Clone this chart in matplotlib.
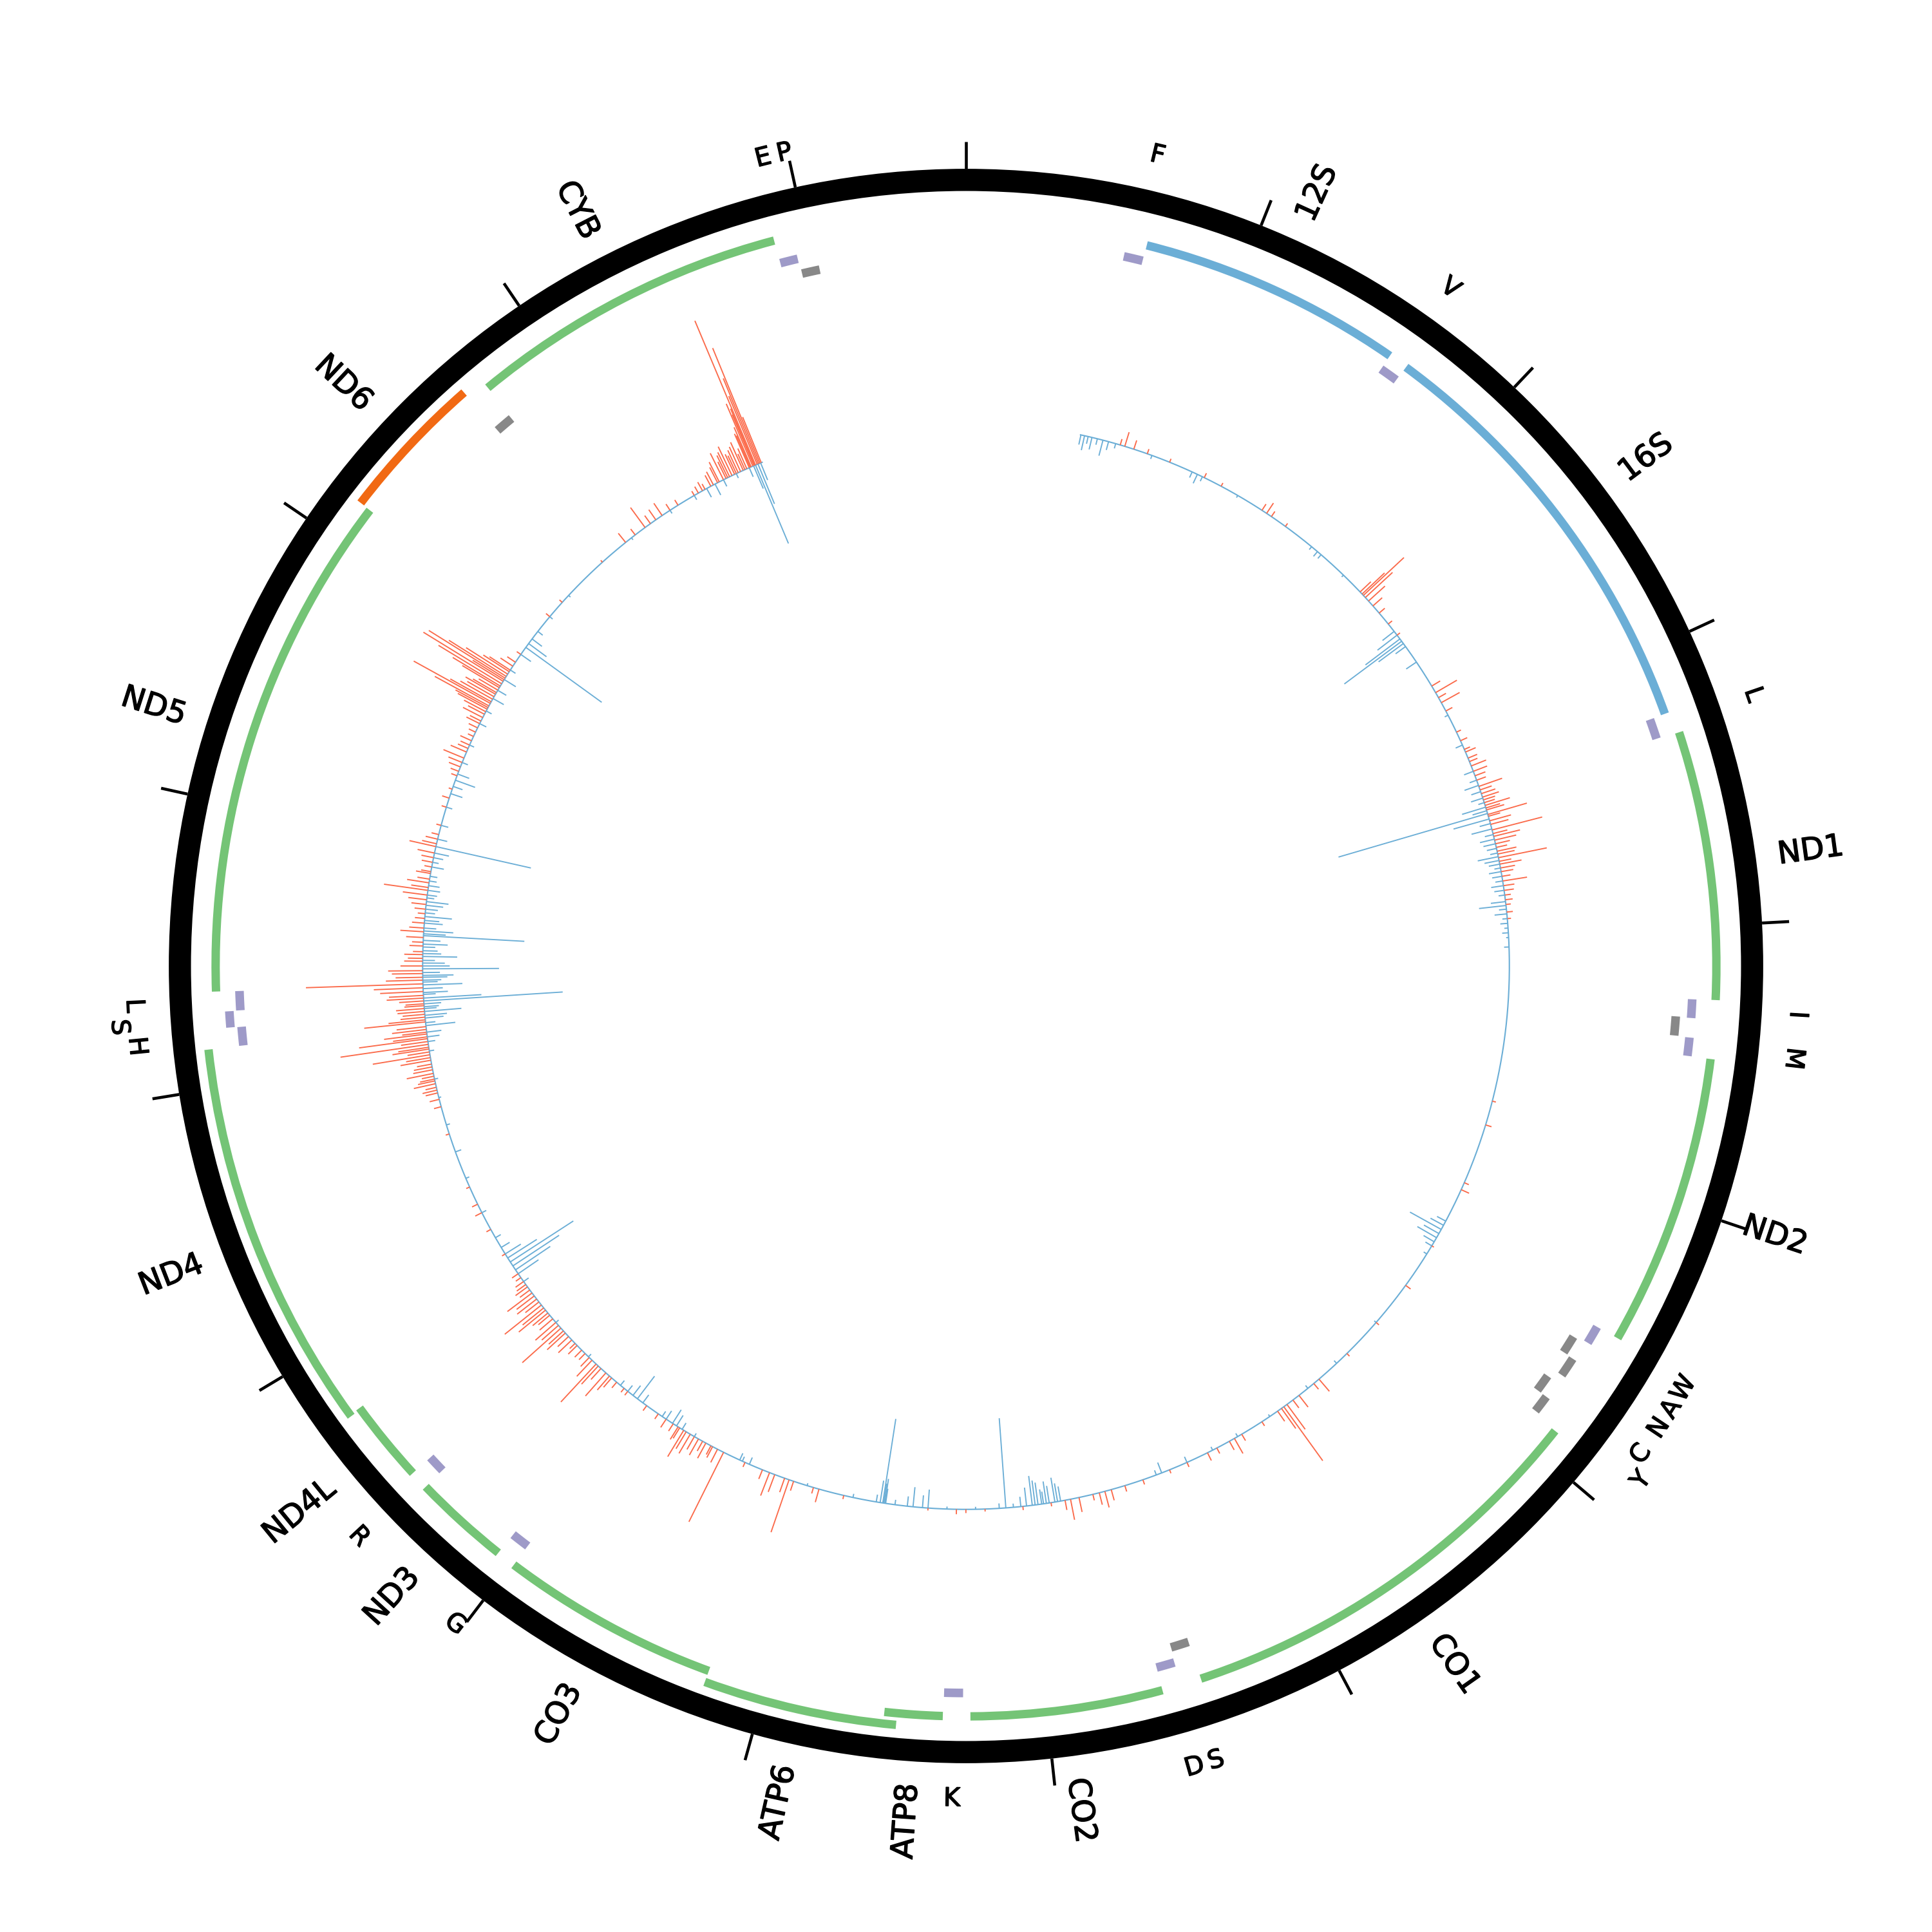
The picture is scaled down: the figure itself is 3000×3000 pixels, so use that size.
import numpy as np
import matplotlib
matplotlib.use("Agg")
import matplotlib.pyplot as plt
import matplotlib.patheffects as pe

GENOME_LEN = 16569

# --- mitochondrial genome annotation (rCRS) ---
gene_names = ["F", "12S", "V", "16S", "L", "ND1", "I", "Q", "M", "ND2", "W", "A", "N", "C", "Y",
              "CO1", "S", "D", "CO2", "K", "ATP8", "ATP6", "CO3", "G", "ND3", "R", "ND4L", "ND4",
              "H", "S", "L", "ND5", "ND6", "E", "CYB", "T", "P"]
gene_starts = [577, 648, 1602, 1671, 3230, 3307, 4263, 4329, 4402, 4470, 5512, 5587, 5657, 5761, 5826,
               5904, 7446, 7518, 7586, 8295, 8366, 8527, 9207, 9991, 10059, 10405, 10470, 10760,
               12138, 12207, 12266, 12337, 14149, 14674, 14747, 15888, 15956]
gene_ends = [647, 1601, 1670, 3229, 3304, 4262, 4331, 4400, 4469, 5511, 5579, 5655, 5729, 5826, 5891,
             7445, 7514, 7585, 8269, 8364, 8572, 9207, 9990, 10058, 10404, 10469, 10766, 12137,
             12206, 12265, 12336, 14148, 14673, 14742, 15887, 15953, 16023]
gene_strand = ["+", "+", "+", "+", "+", "+", "+", "-", "+", "+", "+", "-", "-", "-", "-",
               "+", "-", "+", "+", "+", "+", "+", "+", "+", "+", "+", "+", "+",
               "+", "+", "+", "+", "-", "-", "+", "+", "-"]
gene_kind = ["trna", "rrna", "trna", "rrna", "trna", "cds", "trna", "trna", "trna", "cds", "trna", "trna",
             "trna", "trna", "trna", "cds", "trna", "trna", "cds", "trna", "cds", "cds", "cds", "trna",
             "cds", "trna", "cds", "cds", "trna", "trna", "trna", "cds", "cds", "trna", "cds", "trna", "trna"]
# text shown next to each feature ("" = no label)
gene_labels = ["F", "12S", "V", "16S", "L", "ND1", "I", "", "M", "ND2", "W", "A", "N", "C", "Y",
               "CO1", "S", "D", "CO2", "K", "ATP8", "ATP6", "CO3", "G", "ND3", "R", "ND4L", "ND4",
               "H", "S", "L", "ND5", "ND6", "", "CYB", "E", "P"]

tick_positions = list(range(0, 16001, 1000))

# --- inner track: per-position signal ---
fwd_pos = [759, 782, 828, 897, 1013, 1197, 1289, 1519, 1546, 1574, 1657,
           2140, 2154, 2163, 2177, 2200, 2232, 2278, 2347, 2416,
           2715, 2752, 2780, 2808, 2854, 2969, 3061, 3107, 3148, 3199, 3254, 3291, 3323, 3351,
           3374, 3397, 3429, 3475, 3507, 3544, 3581, 3613, 3645, 3682, 3728, 3774, 3820, 3912,
           4805, 4925, 5224, 5261, 5569, 5799, 6029, 6236, 6420, 6453, 6545, 6582, 6618, 6637,
           6651, 6674, 6766, 6881, 6922, 6950, 7019, 7070, 7180,
           7272, 7410, 7502, 7571, 7603, 7631, 7663, 7732, 7774, 7801, 7870, 8008, 8192, 8285,
           8331, 8469, 8883, 9007, 9035, 9136, 9159, 9182, 9233, 9260, 9297, 9389, 9504, 9537,
           9573, 9642, 9688, 9725, 9757, 9826,
           9941, 10056, 10126, 10195, 10227, 10259, 10286, 10356, 10425, 10471, 10503, 10540,
           10586, 10618, 10650, 10687, 10724, 10761, 10793, 10839, 10954, 11092, 11184, 11230,
           11322, 11598, 11736, 11805, 11851, 11874, 11902, 11934, 11967, 11994, 12022, 12045,
           12073, 12096, 12118, 12155, 12178, 12220, 12243, 12271, 12340,
           12450, 12496, 12524, 12593, 12635, 12681, 12749, 12795, 12832, 12887, 12956, 13011,
           13048, 13117, 13255, 13370, 13416, 13462, 13494, 13531, 13600, 13646, 13679, 13725,
           13743, 13757, 13780, 13817, 13845, 13867, 13881, 13899, 13922, 13945, 13991, 14037,
           14268, 14360, 14636, 14784, 14843, 14903, 14935, 14967, 15004, 15050, 15096, 15188,
           15234, 15280, 15317, 15349, 15372, 15395, 15418, 15441, 15464, 15487, 15497, 15506,
           15512, 15520, 15529, 15536, 15543, 15550,
           # denser low-level stretches
           3015, 3075, 3125, 3176, 3222, 3272, 3309, 3337, 3364, 3406, 3447, 3493, 3526, 3562,
           3595, 3631, 3664, 3705, 3751, 3797, 3843, 3880,
           9564, 9601, 9619, 9665, 9711, 9748, 9785, 9872, 10079, 10158, 10172, 10245, 10305,
           10333, 10388, 10402, 10448, 10485, 10521, 10563, 10600, 10632, 10669, 10706, 10742,
           10775, 10816,
           11773, 11819, 11833, 11865, 11888, 11920, 11948, 11980, 12008, 12031, 12059, 12082,
           12105, 12132, 12165, 12192, 12206, 12234, 12257, 12284, 12303, 12321, 12358, 12372,
           12390, 12404, 12427, 12464, 12482, 12542, 12565, 12611, 12658, 12703, 12726, 12772,
           12809, 12850, 12878, 12910, 12933, 12979, 13025, 13071, 13209, 13301, 13393, 13439,
           13513, 13554, 13577, 13623, 13660, 13697, 13711, 13734, 13766, 13794, 13808, 13831,
           13854, 13890, 13909, 13936, 13968,
           15211, 15248, 15294, 15326, 15363, 15382, 15409, 15428, 15455, 15474, 15492, 15515]
fwd_val = [5, 12, 7.5, 4, 3, 4, 3, 6, 10, 5, 3,
           12, 25, 45, 30, 18, 10, 6, 4, 3,
           8, 20, 7, 17, 6, 4, 5, 8, 13, 9, 20, 12, 10, 21,
           15, 33, 18, 42, 22, 12, 16, 40, 18, 10, 20, 8, 6, 3,
           3, 5, 4, 7, 2, 5, 3, 3, 13, 6, 12, 8, 25, 54,
           20, 10, 4, 6, 14, 8, 5, 7, 4,
           3, 4, 5, 9, 13.5, 10, 5, 12, 17, 8, 3, 3, 2, 3,
           4, 2, 3, 11, 5, 8, 45, 12, 15, 20, 8, 4, 63, 12,
           8, 15, 18, 25, 12, 8,
           5, 4, 6, 25, 12, 42, 18, 8, 15, 20, 42, 22,
           12, 28, 38, 20, 25, 12, 8, 6, 3, 4, 6, 5,
           3, 3, 6, 10, 18, 12, 22, 15, 25, 47, 30, 72,
           56, 35, 28, 50, 20, 23, 15, 30, 95,
           15, 8, 11, 19, 10, 6, 15, 36, 18, 8, 10, 22,
           10, 4, 6, 5, 10, 18, 14, 8, 6, 12, 18, 27,
           50, 71, 30, 22, 35, 60, 76, 73, 40, 20, 8, 4,
           4, 3, 2, 9.5, 6, 20, 8, 10, 12, 6, 5, 4,
           8, 10, 14, 24, 20, 26, 16, 22, 14, 30, 35, 55,
           45, 127, 60, 75, 101, 40,
           6, 9, 7, 12, 8, 10, 14, 9, 12, 10, 15, 12, 18, 9,
           14, 10, 12, 7, 9, 5, 4, 5,
           10, 14, 9, 12, 16, 10, 7, 5, 4, 10, 15, 20, 10,
           7, 10, 6, 12, 16, 18, 14, 16, 22, 14, 18, 10,
           9, 5,
           8, 12, 9, 14, 10, 16, 12, 20, 18, 25, 22, 28,
           20, 24, 30, 18, 22, 16, 20, 28, 35, 40, 30, 22,
           25, 28, 18, 12, 15, 9, 14, 12, 8, 9, 12, 20,
           14, 10, 12, 6, 9, 14, 12, 6, 4, 3, 7, 12,
           9, 10, 5, 8, 10, 15, 20, 30, 38, 25, 28, 18,
           45, 30, 55, 25, 12,
           6, 5, 12, 18, 15, 22, 18, 20, 25, 18, 28, 50]

rev_pos = [562, 580, 598, 617, 644, 672, 700, 736, 921, 1132, 1160, 1187, 1381, 1818, 1855, 1878,
           2025, 2393, 2416, 2439, 2453, 2467, 2485, 2577, 2877, 3038, 3176, 3249, 3314, 3360,
           3392, 3420, 3470, 3521, 3567, 3608, 3645, 3682, 3728, 3774, 3848, 3889, 3935, 3981, 4050,
           5431, 5454, 5477, 5500, 5523, 5546, 5569, 5615, 6029, 6305, 6490, 6720, 6904, 7042,
           7180, 7313, 7341,
           7823, 7851, 7879, 7907, 7934, 7962, 7990, 8018, 8054, 8091, 8123, 8238, 8377, 8469,
           8496, 8542, 8570, 8630, 8680, 8690, 8703, 8722, 8837, 9067, 9366, 9403, 9417, 9665,
           9734, 9766, 9789, 9826, 9849,
           9964, 9997, 10024, 10056, 10102, 10310, 10540, 10793, 10839, 10862, 10885, 10908,
           10931, 10954, 10991, 11046, 11184, 11368, 11506, 11644, 11782, 11874, 12013, 12082,
           12137, 12174, 12206, 12229, 12257, 12271, 12298, 12335, 12358, 12381, 12413, 12441,
           12473, 12501, 12533, 12574, 12597, 12635, 12667, 12703, 12740, 12772,
           12841, 12910, 12979, 13011, 13048, 13117, 13209, 13278, 13315, 13347, 13379, 13439,
           13531, 13646, 13715, 13784, 13830, 13891, 13946, 14037, 14079, 14102, 14130, 14176,
           14268, 14406, 14820, 15050, 15188, 15257, 15303, 15349, 15418, 15487, 15510, 15520,
           15533, 15547,
           # denser low-level stretches
           3222, 3281, 3337, 3378, 3443, 3498, 3544, 3590, 3627, 3664, 3705, 3751, 3797, 3829,
           3866, 3912, 3958, 4004,
           7838, 7893, 7916, 7948, 8676, 8685,
           12059, 12105, 12151, 12187, 12220, 12243, 12289, 12317, 12349, 12372, 12395, 12427,
           12454, 12487, 12519, 12551, 12583, 12611, 12648, 12685, 12722, 12758, 12795, 12818,
           12864, 12933, 12956]
rev_val = [-8, -12, -6, -10, -5, -13, -7, -4, -3, -5, -8, -4, -2, -3, -5, -4,
           -2, -12, -20, -35, -58, -25, -10, -10, -3, -6, -8, -12, -10, -20,
           -126, -30, -17, -12, -8, -17, -9, -10, -6, -8, -22, -10, -6, -5, -4,
           -8, -12, -29, -14, -18, -10, -6, -3, -2, -3, -3, -2, -3, -3,
           -5, -9, -4,
           -12, -20, -14, -10, -18, -24, -15, -8, -3, -73, -4, -2, -2, -15,
           -10, -16, -8, -4, -20, -69, -18, -6, -3, -2, -6, -4, -6, -3,
           -6, -10, -13, -8, -5,
           -8, -23, -10, -6, -5, -3, -3, -5, -20, -34, -45, -61,
           -28, -15, -8, -5, -4, -3, -5, -3, -2, -3, -4, -10,
           -24, -15, -30, -12, -113, -47, -20, -32, -15, -25, -62, -18,
           -28, -12, -20, -82, -24, -15, -22, -10, -18, -8,
           -6, -10, -12, -79, -8, -6, -5, -10, -8, -17, -10, -5,
           -4, -6, -5, -10, -8, -11, -5, -10, -76, -18, -10, -5,
           -3, -2, -2, -3, -4, -8, -10, -6, -4, -8, -20, -69,
           -35, -15,
           -6, -8, -5, -12, -9, -7, -10, -6, -12, -5, -8, -10, -5, -12,
           -6, -4, -3, -2,
           -15, -18, -12, -20, -12, -16,
           -6, -12, -8, -18, -10, -14, -10, -16, -12, -20, -14, -22,
           -10, -15, -10, -14, -18, -10, -12, -8, -14, -6, -10, -9,
           -6, -5, -8]
track_start, track_end = 560, 15555

COL_CDS = "#74c476"
COL_RRNA = "#6baed6"
COL_MINUS = "#f16913"
COL_TRNA_P = "#9e9ac8"
COL_TRNA_M = "#888888"
COL_FWD = "#fb6a4a"
COL_REV = "#6baed6"

# text a bit heavier than the regular face
heavy = [pe.withStroke(linewidth=0.35, foreground="black")]


def to_theta(pos):
    return np.asarray(pos, dtype=float) / GENOME_LEN * 2 * np.pi


fig = plt.figure(figsize=(10, 10), dpi=300)
ax = fig.add_axes([0, 0, 1, 1], projection="polar")
ax.set_theta_zero_location("N")
ax.set_theta_direction(-1)
ax.set_ylim(0, 784)
ax.axis("off")

# outer ring + ticks
ax.bar(0, 18, width=2 * np.pi, bottom=629, color="black", linewidth=0)
ax.vlines(to_theta(tick_positions), 647, 669, color="black", lw=1.1)

# inner signal track
base_r = 441
th = np.linspace(to_theta(track_start), to_theta(track_end), 2000)
ax.plot(th, np.full_like(th, base_r), color=COL_REV, lw=0.5)
ax.vlines(to_theta(fwd_pos), base_r, base_r + np.array(fwd_val), color=COL_FWD, lw=0.45)
ax.vlines(to_theta(rev_pos), base_r, base_r + np.array(rev_val), color=COL_REV, lw=0.45)

# gene / tRNA arcs
prev_end = {"+": -100, "-": -100}
prev_bumped = {"+": False, "-": False}
prev_lab_mid, prev_lab_bumped = -1000, False
last_gene_end = -1
for name, s, e, strand, kind, lab in zip(gene_names, gene_starts, gene_ends, gene_strand,
                                          gene_kind, gene_labels):
    t0, t1 = to_theta(s), to_theta(e)
    mid = (s + e) / 2
    tdeg = mid / GENOME_LEN * 360
    if kind == "trna":
        r = 590 if strand == "+" else 577.5
        bump = (s - prev_end[strand] <= 3) and not prev_bumped[strand]
        if bump:
            r += 9
        prev_end[strand] = e
        prev_bumped[strand] = bump
        col = COL_TRNA_P if strand == "+" else COL_TRNA_M
        ax.bar((t0 + t1) / 2, 7, width=t1 - t0, bottom=r - 3.5, color=col, linewidth=0)
        if lab:
            lr = 676
            lbump = (mid - prev_lab_mid < 67) and not prev_lab_bumped
            if lbump:
                lr += 13
            prev_lab_mid, prev_lab_bumped = mid, lbump
            rot = -tdeg
            if 100 < tdeg < 280:
                rot += 180
            ax.text(to_theta(mid), lr, lab, rotation=rot, rotation_mode="anchor",
                    ha="center", va="center", fontsize=9.5, path_effects=heavy)
    else:
        if kind == "rrna":
            r, col = 603, COL_RRNA
        elif strand == "-":
            r, col = 618.5, COL_MINUS
        elif s < last_gene_end:
            r, col = 618.5, COL_CDS
        else:
            r, col = 609, COL_CDS
        last_gene_end = e
        ax.bar((t0 + t1) / 2, 6.8, width=t1 - t0, bottom=r - 3.4, color=col, linewidth=0)
        phi = 90 - tdeg
        if 180 < tdeg < 360:
            rot, ha = phi + 180, "right"
        else:
            rot, ha = phi, "left"
        rot = (rot + 180) % 360 - 180
        ax.text(to_theta(mid), 665, lab, rotation=rot, rotation_mode="anchor",
                ha=ha, va="center", fontsize=11.5, path_effects=heavy)

fig.savefig("out.png", dpi=300)
